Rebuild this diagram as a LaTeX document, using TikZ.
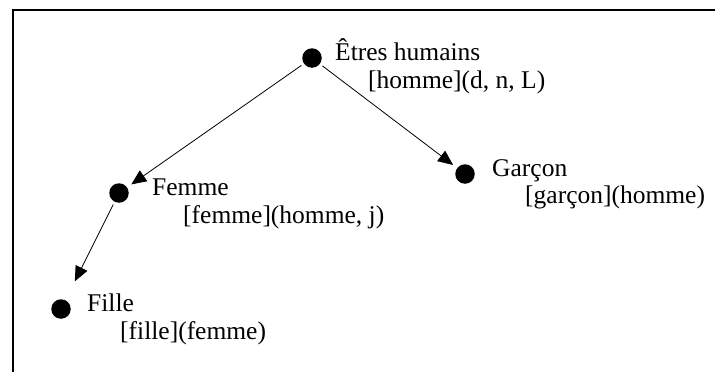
\documentclass[tikz,border=0pt]{standalone}
\usepackage{fontspec}
\setmainfont{Liberation Serif}
\usetikzlibrary{arrows.meta}
\begin{document}
\begin{tikzpicture}[x=1pt,y=-1pt,
  dot/.style={circle,fill=black,inner sep=0pt,minimum size=19.5pt},
  lbl/.style={anchor=base west,inner sep=0pt,font=\fontsize{25.5}{28}\selectfont},
  conn/.style={line width=0.8pt,-{Triangle[length=15pt,width=13pt]},shorten <=3pt},
  frame/.style={line width=2pt}]
\useasboundingbox (0,0) rectangle (715,372);
\draw[frame] (715,9.5) -- (12.5,9.5) -- (12.5,373);
% dots
\node[dot] (root) at (312,58) {};
\node[dot] (garcon) at (465,174) {};
\node[dot] (femme) at (119,193) {};
\node[dot] (fille) at (61,309) {};
% labels
\node[lbl] (rootA) at (335,60) {Êtres humains};
\node[lbl] (rootB) at (368,88) {[homme](d, n, L)};
\node[lbl] (garconA) at (492,176) {Garçon};
\node[lbl] (garconB) at (525,203) {[garçon](homme)};
\node[lbl] (femmeA) at (152,195) {Femme};
\node[lbl] (femmeB) at (183,223) {[femme](homme, j)};
\node[lbl] (filleA) at (87,311) {Fille};
\node[lbl] (filleB) at (120,339) {[fille](femme)};
% connectors
\draw[conn,shorten >=5pt] (root) -- (femme);
\draw[conn,shorten >=5pt] (root) -- (garcon);
\draw[conn,shorten >=21pt] (femme) -- (fille);
\end{tikzpicture}
\end{document}
